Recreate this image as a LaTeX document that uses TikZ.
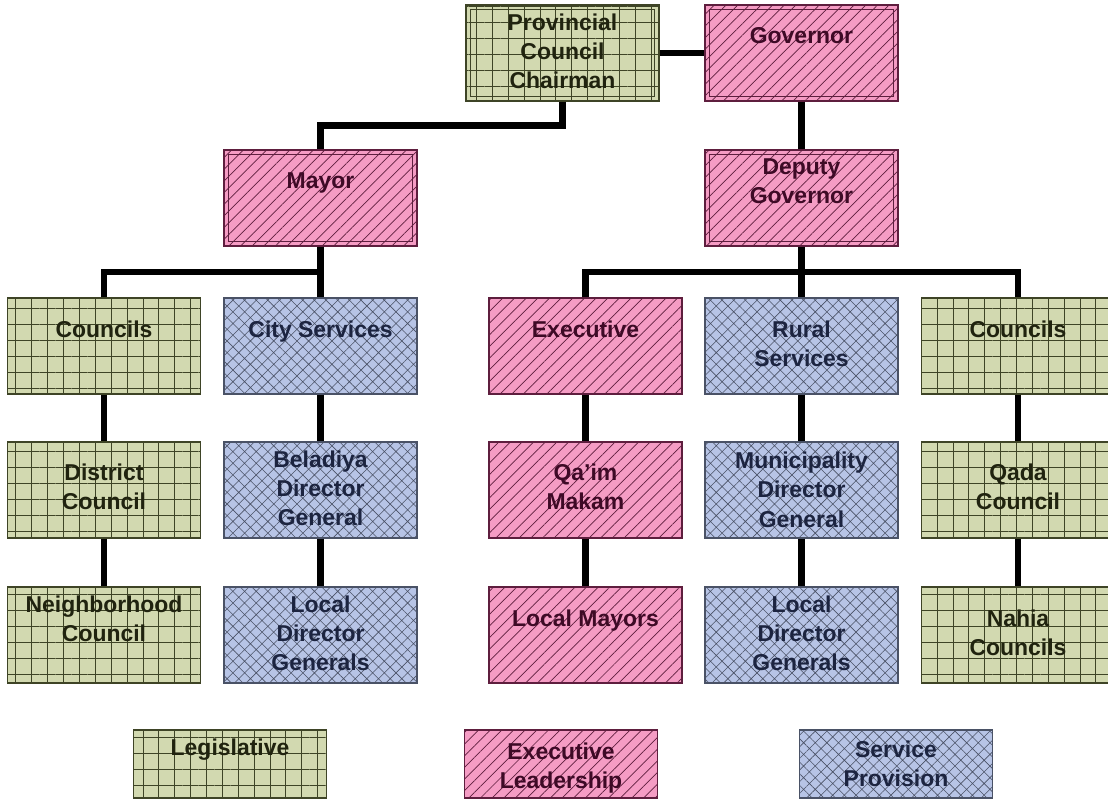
\documentclass[tikz,border=0pt]{standalone}
\usepackage{fontspec}
\setmainfont{Liberation Sans}
\usepackage{tikz}
\usetikzlibrary{patterns.meta,calc}

\definecolor{legfill}{HTML}{D2D9B0}
\definecolor{legline}{HTML}{3E4426}
\definecolor{legtext}{HTML}{20230F}
\definecolor{exefill}{HTML}{F59CC4}
\definecolor{exeline}{HTML}{5E1E3E}
\definecolor{exetext}{HTML}{3E0A26}
\definecolor{serfill}{HTML}{B7C4E6}
\definecolor{serline}{HTML}{4A5266}
\definecolor{sertext}{HTML}{1C2440}

\tikzset{
  orgbox/.style={line width=1pt, minimum width=164pt, minimum height=81.6pt, inner sep=0pt},
  legis/.style={orgbox, draw=legline, fill=legfill,
    postaction={pattern={Hatch[angle=0,distance=13.5pt,line width=0.7pt]}, pattern color=legline}},
  execu/.style={orgbox, draw=exeline, fill=exefill,
    postaction={pattern={Lines[angle=45,distance=7pt,line width=0.6pt]}, pattern color=exeline}},
  servi/.style={orgbox, draw=serline, fill=serfill,
    postaction={pattern={Hatch[angle=45,distance=7pt,line width=0.5pt]}, pattern color=serline}},
  keybox/.style={minimum height=57.8pt},
  boxtext/.style={anchor=north, align=center, inner sep=0pt, font=\bfseries\fontsize{19.5}{24.75}\selectfont},
  legt/.style={boxtext, text=legtext},
  exet/.style={boxtext, text=exetext},
  sert/.style={boxtext, text=sertext},
  conn/.style={line width=5.5pt, black},
  inner/.style={line width=0.8pt}
}

\begin{document}
\begin{tikzpicture}[x=0.85pt,y=-0.85pt]
    \useasboundingbox (0,0) rectangle (1108,801);
    % top of the province
    \node[legis] (pcc) at (562.5,53) {};
    \node[execu] (gov) at (801.5,53) {};
    \node[execu] (mayor) at (320.5,198) {};
    \node[execu] (dgov) at (801.5,198) {};
    \draw[inner,legline]([shift={(4pt,-4pt)}]pcc.north west) rectangle ([shift={(-4pt,4pt)}]pcc.south east);
    \draw[inner,exeline]([shift={(4pt,-4pt)}]gov.north west) rectangle ([shift={(-4pt,4pt)}]gov.south east);
    \draw[inner,exeline]([shift={(4pt,-4pt)}]mayor.north west) rectangle ([shift={(-4pt,4pt)}]mayor.south east);
    \draw[inner,exeline]([shift={(4pt,-4pt)}]dgov.north west) rectangle ([shift={(-4pt,4pt)}]dgov.south east);
    \node[legt] (pcct) at ([yshift=-7.7pt]pcc.north) {Provincial\\Council\\Chairman};
    \node[exet] (govt) at ([yshift=-19.6pt]gov.north) {Governor};
    \node[exet] (mayort) at ([yshift=-19.6pt]mayor.north) {Mayor};
    \node[exet] (dgovt) at ([yshift=-7.7pt]dgov.north) {Deputy\\Governor};

    % city side
    \node[legis] (coun1) at (104,346) {};
    \node[legt] (coun1t) at ([yshift=-19.6pt]coun1.north) {Councils};
    \node[servi] (city) at (320.5,346) {};
    \node[sert] (cityt) at ([yshift=-19.6pt]city.north) {City Services};
    \node[legis] (dist) at (104,490) {};
    \node[legt] (distt) at ([yshift=-18.7pt]dist.north) {District\\Council};
    \node[servi] (beldg) at (320.5,490) {};
    \node[sert] (beldgt) at ([yshift=-7.7pt]beldg.north) {Beladiya\\Director\\General};
    \node[legis] (neigh) at (104,635) {};
    \node[legt] (neight) at ([yshift=-7.7pt]neigh.north) {Neighborhood\\Council};
    \node[servi] (locdg1) at (320.5,635) {};
    \node[sert] (locdg1t) at ([yshift=-7.7pt]locdg1.north) {Local\\Director\\Generals};

    % rural side
    \node[execu] (exec) at (585.5,346) {};
    \node[exet] (exect) at ([yshift=-19.6pt]exec.north) {Executive};
    \node[servi] (rural) at (801.5,346) {};
    \node[sert] (ruralt) at ([yshift=-19.6pt]rural.north) {Rural\\Services};
    \node[legis] (coun2) at (1018,346) {};
    \node[legt] (coun2t) at ([yshift=-19.6pt]coun2.north) {Councils};
    \node[execu] (qaim) at (585.5,490) {};
    \node[exet] (qaimt) at ([yshift=-18.7pt]qaim.north) {Qa’im\\Makam};
    \node[servi] (mundg) at (801.5,490) {};
    \node[sert] (mundgt) at ([yshift=-9pt]mundg.north) {Municipality\\Director\\General};
    \node[legis] (qada) at (1018,490) {};
    \node[legt] (qadat) at ([yshift=-18.7pt]qada.north) {Qada\\Council};
    \node[execu] (locmay) at (585.5,635) {};
    \node[exet] (locmayt) at ([yshift=-19.6pt]locmay.north) {Local Mayors};
    \node[servi] (locdg2) at (801.5,635) {};
    \node[sert] (locdg2t) at ([yshift=-7.7pt]locdg2.north) {Local\\Director\\Generals};
    \node[legis] (nahia) at (1018,635) {};
    \node[legt] (nahiat) at ([yshift=-19.6pt]nahia.north) {Nahia\\Councils};

    % connectors
    \draw[conn](pcc.east)--(gov.west);
    \draw[conn](gov.south)--(dgov.north);
    \draw[conn](pcc.south)|-($(pcc.south)!0.5!(mayor.north)$)-|(mayor.north);
    \draw[conn](mayor.south)--(city.north);
    \draw[conn](coun1.north)|-($(mayor.south)!0.5!(city.north)$);
    \draw[conn](dgov.south)--(rural.north);
    \draw[conn](exec.north)|-($(dgov.south)!0.5!(rural.north)$)-|(coun2.north);
    \draw[conn](coun1.south)--(dist.north);
    \draw[conn](dist.south)--(neigh.north);
    \draw[conn](city.south)--(beldg.north);
    \draw[conn](beldg.south)--(locdg1.north);
    \draw[conn](exec.south)--(qaim.north);
    \draw[conn](qaim.south)--(locmay.north);
    \draw[conn](rural.south)--(mundg.north);
    \draw[conn](mundg.south)--(locdg2.north);
    \draw[conn](coun2.south)--(qada.north);
    \draw[conn](qada.south)--(nahia.north);

    % key
    \node[legis,keybox] (keyleg) at (230,764) {};
    \node[legt] (keylegt) at ([yshift=-7.7pt]keyleg.north) {Legislative};
    \node[execu,keybox] (keyexe) at (561,764) {};
    \node[exet] (keyexet) at ([yshift=-11pt]keyexe.north) {Executive\\Leadership};
    \node[servi,keybox] (keyser) at (896,764) {};
    \node[sert] (keysert) at ([yshift=-9.4pt]keyser.north) {Service\\Provision};
\end{tikzpicture}
\end{document}
